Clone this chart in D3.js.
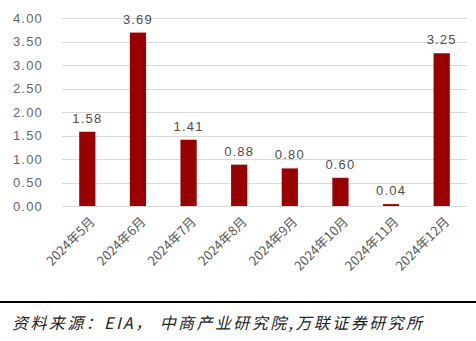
<!DOCTYPE html>
<html>
<head>
<meta charset="utf-8">
<script src="https://cdn.jsdelivr.net/npm/d3@7"></script>
<style>
  html, body { margin: 0; padding: 0; background: #fff; }
  svg { display: block; }
</style>
</head>
<body>
<svg id="chart" width="476" height="341"></svg>
<script>
// Monthly values
const categories = ["2024年5月", "2024年6月", "2024年7月", "2024年8月", "2024年9月", "2024年10月", "2024年11月", "2024年12月"];
const values = [1.58, 3.69, 1.41, 0.88, 0.80, 0.60, 0.04, 3.25];
const yTicks = [0, 0.5, 1, 1.5, 2, 2.5, 3, 3.5, 4];
const sourceText = "资料来源：EIA，  中商产业研究院,万联证券研究所";

const svg = d3.select("#chart");
const margin = { left: 62, right: 9, top: 18 };
const W = 476;
const plotBottom = 206;

const x = d3.scaleBand()
  .domain(categories)
  .range([margin.left, W - margin.right])
  .paddingInner(0.68)
  .paddingOuter(0.34);

const y = d3.scaleLinear()
  .domain([0, 4])
  .range([plotBottom, margin.top]);

const font = "'Liberation Sans', Arial, 'Noto Sans CJK SC', sans-serif";

// Gridlines
svg.append("g")
  .selectAll("line")
  .data(yTicks)
  .join("line")
  .attr("x1", margin.left)
  .attr("x2", W - margin.right)
  .attr("y1", d => Math.round(y(d)) + 0.5)
  .attr("y2", d => Math.round(y(d)) + 0.5)
  .attr("stroke", "#d9d9d9")
  .attr("stroke-width", 1);

// Y axis labels
const yAxis = d3.axisLeft(y)
  .tickValues(yTicks)
  .tickFormat(d3.format(".2f"))
  .tickSize(0)
  .tickPadding(0);
const gy = svg.append("g")
  .attr("transform", `translate(${margin.left - 19},0)`)
  .call(yAxis);
gy.select(".domain").remove();
gy.selectAll("text")
  .attr("font-family", font)
  .attr("font-size", 13)
  .attr("letter-spacing", "1.2px")
  .attr("fill", "#666");

// Bars
svg.append("g")
  .selectAll("rect")
  .data(values)
  .join("rect")
  .attr("x", (d, i) => x(categories[i]))
  .attr("width", x.bandwidth())
  .attr("y", d => y(d))
  .attr("height", d => y(0) - y(d))
  .attr("fill", "#990000");

// Value labels
svg.append("g")
  .selectAll("text")
  .data(values)
  .join("text")
  .attr("x", (d, i) => x(categories[i]) + x.bandwidth() / 2)
  .attr("y", d => y(d) - 9)
  .attr("text-anchor", "middle")
  .attr("font-family", font)
  .attr("font-size", 13)
  .attr("letter-spacing", "1.2px")
  .attr("fill", "#4d4d4d")
  .text(d => d3.format(".2f")(d));

// Category labels, rotated
const xAxis = d3.axisBottom(x).tickSize(0).tickPadding(0);
const gx = svg.append("g")
  .attr("transform", `translate(0,${plotBottom})`)
  .call(xAxis);
gx.select(".domain").remove();
gx.selectAll(".tick text")
  .attr("font-family", "'Noto Sans CJK SC', sans-serif")
  .attr("font-size", 13)
  .attr("fill", "#595959")
  .attr("text-anchor", "end")
  .attr("dy", null)
  .attr("transform", "translate(6,14) rotate(-45)")
  .attr("y", 0)
  .attr("dominant-baseline", "middle");

// Source line
svg.append("line")
  .attr("x1", 0).attr("x2", W)
  .attr("y1", 302).attr("y2", 302)
  .attr("stroke", "#000")
  .attr("stroke-width", 2);

svg.append("text")
  .attr("x", 12)
  .attr("y", 329)
  .attr("font-family", "'Noto Sans CJK SC', sans-serif")
  .attr("font-style", "italic")
  .attr("font-size", 16)
  .attr("textLength", 410)
  .attr("lengthAdjust", "spacing")
  .attr("fill", "#222")
  .text(sourceText);
</script>
</body>
</html>
